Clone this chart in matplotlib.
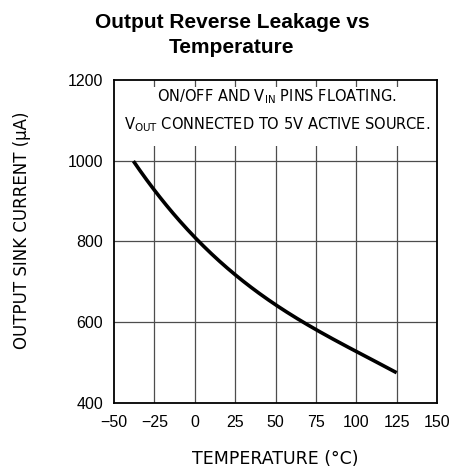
import matplotlib
matplotlib.use("Agg")
import matplotlib.pyplot as plt
from matplotlib.patches import Rectangle
import numpy as np

# curve values
temp_c = [-38, -25, 0, 25, 50, 75, 100, 125]
sink_ua = [1000, 927, 807, 721, 643, 581, 526, 475]

x_ticks = [-50, -25, 0, 25, 50, 75, 100, 125, 150]
y_ticks = [400, 600, 800, 1000, 1200]

fig = plt.figure(figsize=(4.53, 4.73), dpi=100)
ax = fig.add_axes([0.2517, 0.1486, 0.713, 0.682])

ax.set_xlim(-50, 150)
ax.set_ylim(400, 1200)

# grid drawn by hand so the note box can cover part of it
for x in x_ticks[1:-1]:
    ax.axvline(x, color="0.3", lw=0.9, zorder=1)
for y in y_ticks[1:-1]:
    ax.axhline(y, color="0.3", lw=0.9, zorder=1)
ax.add_patch(Rectangle((-50, 1036), 200, 146, facecolor="white",
                       edgecolor="none", zorder=1.5))

# smooth the curve a little between read points
xs = np.array(temp_c, dtype=float)
ys = np.array(sink_ua, dtype=float)
coef = np.polyfit(xs, ys, 3)
xf = np.linspace(xs[0], xs[-1], 200)
ax.plot(xf, np.polyval(coef, xf), color="black", lw=2.6,
        solid_capstyle="butt", zorder=3)

ax.set_xticks(x_ticks)
ax.set_yticks(y_ticks)
ax.tick_params(length=0, labelsize=11.5)
ax.tick_params(axis="y", pad=8)
ax.tick_params(axis="x", pad=9)
for lab in ax.get_xticklabels() + ax.get_yticklabels():
    lab.set_family("Liberation Sans")
ax.set_xticklabels([str(v).replace("-", "\u2212") for v in x_ticks])

for s in ax.spines.values():
    s.set_linewidth(1.3)
    s.set_zorder(4)

note = dict(fontsize=10.5, family="DejaVu Sans", ha="center", va="center",
            zorder=5)
ax.text(51, 1159, r"ON/OFF AND V$_{\mathrm{IN}}$ PINS FLOATING.", **note)
ax.text(51, 1089, r"V$_{\mathrm{OUT}}$ CONNECTED TO 5V ACTIVE SOURCE.", **note)

ax.set_xlabel("TEMPERATURE (\u00b0C)", fontsize=12.5, family="DejaVu Sans",
              labelpad=14)
ax.set_ylabel("OUTPUT SINK CURRENT (\u03bcA)", fontsize=12,
              family="DejaVu Sans")
ax.yaxis.set_label_coords(-0.284, 0.535)
ax.yaxis.label.set_verticalalignment("center")

title = dict(fontsize=15, fontweight="bold", family="Liberation Sans",
             ha="center", va="baseline")
fig.text(232 / 453, 1 - 28 / 473, "Output Reverse Leakage vs", **title)
fig.text(232 / 453, 1 - 53 / 473, "Temperature", **title)

fig.savefig("out.png", dpi=100)
